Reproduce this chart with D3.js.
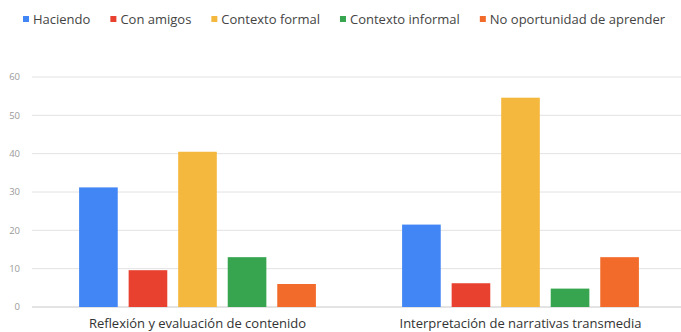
<!DOCTYPE html>
<html>
<head>
<meta charset="utf-8">
<script src="https://cdn.jsdelivr.net/npm/d3@7"></script>
<style>
  body { margin: 0; background: #fff; }
  svg text { font-family: "Open Sans", sans-serif; }
</style>
</head>
<body>
<script>
// categories and series
var categories = ["Reflexión y evaluación de contenido", "Interpretación de narrativas transmedia"];
var series = ["Haciendo", "Con amigos", "Contexto formal", "Contexto informal", "No oportunidad de aprender"];
var colors = ["#4285f4", "#e8412f", "#f4b83f", "#37a54f", "#f26b2b"];
// values per series, one per category
var haciendo = [31.2, 21.5];
var conAmigos = [9.6, 6.2];
var contextoFormal = [40.5, 54.6];
var contextoInformal = [13.0, 4.8];
var noOportunidad = [6.0, 13.0];
var yTicks = [0, 10, 20, 30, 40, 50, 60];

var values = [haciendo, conAmigos, contextoFormal, contextoInformal, noOportunidad];

var width = 681, height = 332;
var margin = { left: 32, right: 0, top: 77, bottom: 25 };

var svg = d3.select("body").append("svg")
	.attr("width", width)
	.attr("height", height);

var y = d3.scaleLinear().domain([0, 60]).range([height - margin.bottom, margin.top]);
var x0 = d3.scaleBand().domain(categories).range([margin.left + 4, width + 1]).padding(0);
var x1 = d3.scaleBand().domain(series).range([0, x0.bandwidth()])
	.paddingInner(0.22).paddingOuter(0.87);

// grid lines
svg.append("g")
	.selectAll("line")
	.data(yTicks)
	.enter().append("line")
	.attr("x1", margin.left)
	.attr("x2", width)
	.attr("y1", function(d){ return y(d); })
	.attr("y2", function(d){ return y(d); })
	.attr("stroke", function(d){ return d === 0 ? "#c8c8c8" : "#e2e2e2"; })
	.attr("stroke-width", 1);

// y axis labels
svg.append("g")
	.selectAll("text")
	.data(yTicks)
	.enter().append("text")
	.attr("x", 20)
	.attr("y", function(d){ return y(d); })
	.attr("dy", "0.35em")
	.attr("text-anchor", "end")
	.style("font-size", "9.5px")
	.style("fill", "#9a9a9a")
	.text(function(d){ return d; });

// bars
var groups = svg.append("g")
	.selectAll("g")
	.data(categories)
	.enter().append("g")
	.attr("transform", function(d){ return "translate(" + x0(d) + ",0)"; });

groups.selectAll("rect")
	.data(function(d, i){
		return series.map(function(s, j){ return { s: s, v: values[j][i], c: colors[j] }; });
	})
	.enter().append("rect")
	.attr("x", function(d){ return x1(d.s); })
	.attr("width", x1.bandwidth())
	.attr("y", function(d){ return y(d.v); })
	.attr("height", function(d){ return y(0) - y(d.v); })
	.attr("fill", function(d){ return d.c; });

// category labels
svg.append("g")
	.selectAll("text")
	.data(categories)
	.enter().append("text")
	.attr("x", function(d){ return x0(d) + x0.bandwidth() / 2; })
	.attr("y", 323)
	.attr("dy", "0.35em")
	.attr("text-anchor", "middle")
	.style("font-size", "13px")
	.style("fill", "#333")
	.text(function(d){ return d; });

// legend
var legend = svg.append("g");
var lx = 23;
series.forEach(function(s, i){
	legend.append("rect")
		.attr("x", lx)
		.attr("y", 16)
		.attr("width", 6)
		.attr("height", 6)
		.attr("fill", colors[i]);
	var t = legend.append("text")
		.attr("x", lx + 10)
		.attr("y", 19)
		.attr("dy", "0.35em")
		.style("font-size", "13px")
		.style("fill", "#444")
		.text(s);
	lx += 10 + t.node().getComputedTextLength() + 20;
});
</script>
</body>
</html>
